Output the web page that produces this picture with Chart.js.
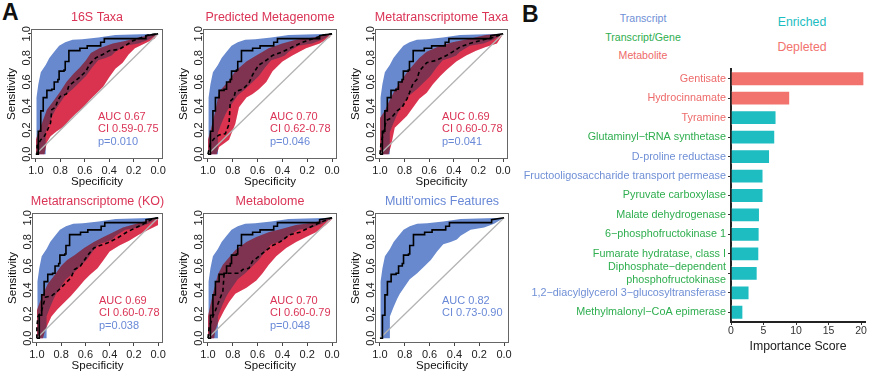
<!DOCTYPE html>
<html><head><meta charset="utf-8">
<script src="https://cdn.jsdelivr.net/npm/chart.js@4"></script>
<style>
html,body{margin:0;padding:0;background:#fff;width:869px;height:374px;overflow:hidden;position:relative;font-family:'Liberation Sans',Arial,sans-serif}
canvas{position:absolute}
.lbl{position:absolute;white-space:nowrap;line-height:1}
.c{transform:translate(-50%,-50%)}
</style></head><body>
<div class="lbl" style="left:2px;top:1px;font-weight:bold;font-size:23px;color:#111">A</div>
<div class="lbl" style="left:522px;top:3px;font-weight:bold;font-size:23px;color:#111">B</div>
<div class="lbl c" style="left:643px;top:18px;font-size:10.6px;color:#6f8fd6">Transcript</div>
<div class="lbl c" style="left:643px;top:37px;font-size:10.6px;color:#2eae4e">Transcript/Gene</div>
<div class="lbl c" style="left:643px;top:55px;font-size:10.6px;color:#ee6a6a">Metabolite</div>
<div class="lbl c" style="left:802px;top:22px;font-size:12.3px;color:#1dbdc1">Enriched</div>
<div class="lbl c" style="left:802px;top:47px;font-size:12.3px;color:#f2736e">Depleted</div>
<canvas id="c1"></canvas><canvas id="c2"></canvas><canvas id="c3"></canvas>
<canvas id="c4"></canvas><canvas id="c5"></canvas><canvas id="c6"></canvas>
<canvas id="cb"></canvas>
<script>
// ---------- DATA (specificity, sensitivity) ----------
const specTicks = [0, 0.2, 0.4, 0.6, 0.8, 1.0];

const multiUpper = [[1,0],[0.995,0],[0.995,0.47],[0.98,0.58],[0.96,0.68],[0.92,0.74],[0.89,0.8],[0.85,0.85],[0.81,0.9],[0.76,0.93],[0.70,0.95],[0.62,0.955],[0.49,0.97],[0.35,0.99],[0,1]];
const multiLower = [[1,0],[0.92,0],[0.92,0.18],[0.89,0.26],[0.86,0.33],[0.84,0.37],[0.80,0.43],[0.76,0.49],[0.70,0.54],[0.65,0.59],[0.59,0.65],[0.54,0.72],[0.49,0.78],[0.43,0.8],[0.38,0.82],[0.35,0.85],[0.27,0.9],[0.16,0.92],[0.08,0.95],[0,1]];
const multiRoc = [[1,0],[0.98,0],[0.98,0.19],[0.96,0.19],[0.96,0.36],[0.94,0.36],[0.94,0.47],[0.91,0.47],[0.91,0.53],[0.87,0.53],[0.87,0.54],[0.85,0.54],[0.85,0.6],[0.82,0.6],[0.82,0.62],[0.81,0.62],[0.81,0.69],[0.77,0.69],[0.77,0.7],[0.76,0.7],[0.76,0.77],[0.73,0.77],[0.73,0.86],[0.64,0.86],[0.64,0.88],[0.58,0.88],[0.58,0.9],[0.47,0.9],[0.47,0.93],[0.44,0.93],[0.44,0.96],[0.1,0.96],[0.1,0.985],[0,1]];

const redUp16 = [[1,0],[1,0.12],[0.98,0.18],[0.96,0.23],[0.91,0.37],[0.85,0.45],[0.80,0.52],[0.75,0.6],[0.69,0.67],[0.64,0.72],[0.59,0.78],[0.55,0.84],[0.48,0.88],[0.37,0.92],[0.27,0.94],[0.16,0.97],[0,1]];
const redLo16 = [[1,0],[0.93,0],[0.91,0.10],[0.88,0.15],[0.83,0.19],[0.77,0.23],[0.72,0.29],[0.67,0.34],[0.61,0.39],[0.56,0.45],[0.51,0.5],[0.45,0.56],[0.40,0.64],[0.35,0.71],[0.29,0.76],[0.24,0.83],[0.19,0.88],[0.11,0.92],[0.03,0.96],[0,1]];
const dash16 = [[1,0],[0.99,0],[0.99,0.07],[0.96,0.12],[0.93,0.15],[0.91,0.19],[0.88,0.26],[0.87,0.37],[0.84,0.39],[0.82,0.45],[0.80,0.48],[0.75,0.5],[0.73,0.57],[0.69,0.6],[0.64,0.64],[0.59,0.69],[0.56,0.75],[0.51,0.80],[0.45,0.83],[0.40,0.86],[0.32,0.87],[0.27,0.9],[0.21,0.94],[0.16,0.96],[0.08,0.99],[0,1]];

const redUpPM = [[1,0],[1,0.12],[0.98,0.19],[0.94,0.36],[0.91,0.52],[0.84,0.6],[0.78,0.69],[0.69,0.77],[0.61,0.82],[0.51,0.88],[0.40,0.92],[0.29,0.95],[0.15,0.97],[0,1]];
const redLoPM = [[1,0],[0.93,0],[0.91,0.06],[0.83,0.12],[0.80,0.2],[0.78,0.25],[0.75,0.39],[0.69,0.47],[0.64,0.5],[0.59,0.54],[0.53,0.6],[0.48,0.69],[0.40,0.77],[0.32,0.82],[0.21,0.88],[0.10,0.92],[0.02,0.97],[0,1]];
const dashPM = [[1,0],[0.98,0.09],[0.95,0.13],[0.91,0.16],[0.86,0.17],[0.83,0.25],[0.82,0.44],[0.79,0.47],[0.78,0.52],[0.72,0.54],[0.67,0.59],[0.64,0.66],[0.61,0.71],[0.59,0.74],[0.53,0.78],[0.48,0.82],[0.40,0.85],[0.32,0.89],[0.24,0.93],[0.15,0.96],[0.07,0.99],[0,1]];

const redUpMT = [[1,0],[1,0.3],[0.96,0.36],[0.92,0.45],[0.88,0.53],[0.84,0.59],[0.78,0.68],[0.73,0.74],[0.68,0.8],[0.62,0.85],[0.51,0.9],[0.41,0.93],[0.27,0.96],[0.14,0.99],[0,1]];
const redLoMT = [[1,0],[0.93,0],[0.91,0.07],[0.88,0.22],[0.84,0.26],[0.78,0.32],[0.73,0.39],[0.68,0.46],[0.62,0.51],[0.57,0.58],[0.51,0.65],[0.46,0.7],[0.38,0.77],[0.30,0.82],[0.22,0.86],[0.14,0.89],[0.05,0.92],[0,1]];
const dashMT = [[1,0],[0.99,0.1],[0.97,0.18],[0.95,0.28],[0.91,0.3],[0.86,0.36],[0.82,0.39],[0.78,0.46],[0.76,0.51],[0.73,0.59],[0.70,0.62],[0.68,0.69],[0.62,0.76],[0.54,0.78],[0.46,0.82],[0.41,0.85],[0.35,0.89],[0.27,0.92],[0.16,0.95],[0.08,0.97],[0,1]];

const redUpKO = [[1,0],[1,0.23],[0.96,0.34],[0.91,0.45],[0.85,0.53],[0.80,0.6],[0.75,0.65],[0.69,0.69],[0.61,0.75],[0.53,0.8],[0.45,0.84],[0.37,0.88],[0.29,0.92],[0.18,0.95],[0.08,0.98],[0,1]];
const redLoKO = [[1,0],[0.95,0],[0.93,0.07],[0.88,0.18],[0.83,0.24],[0.77,0.3],[0.72,0.35],[0.66,0.42],[0.61,0.48],[0.56,0.53],[0.50,0.58],[0.45,0.65],[0.40,0.72],[0.32,0.77],[0.24,0.81],[0.16,0.86],[0.08,0.9],[0,0.94],[0,1]];
const dashKO = [[1,0],[1,0.1],[0.99,0.18],[0.96,0.23],[0.93,0.34],[0.88,0.35],[0.83,0.39],[0.77,0.45],[0.72,0.5],[0.69,0.57],[0.64,0.6],[0.58,0.69],[0.53,0.75],[0.48,0.77],[0.42,0.79],[0.34,0.83],[0.26,0.88],[0.18,0.92],[0.10,0.96],[0.05,0.99],[0,1]];

const redUpMB = [[1,0],[1,0.18],[0.96,0.37],[0.92,0.53],[0.88,0.61],[0.83,0.67],[0.78,0.73],[0.69,0.8],[0.61,0.84],[0.51,0.88],[0.40,0.91],[0.29,0.94],[0.15,0.96],[0,1]];
const redLoMB = [[1,0],[0.95,0],[0.94,0.07],[0.91,0.15],[0.87,0.23],[0.83,0.3],[0.78,0.37],[0.69,0.42],[0.61,0.48],[0.56,0.54],[0.51,0.61],[0.45,0.68],[0.37,0.75],[0.29,0.8],[0.21,0.84],[0.13,0.88],[0.05,0.94],[0,0.99],[0,1]];
const dashMB = [[1,0],[0.99,0.09],[0.96,0.18],[0.94,0.23],[0.91,0.31],[0.88,0.39],[0.87,0.53],[0.84,0.54],[0.75,0.54],[0.72,0.57],[0.67,0.58],[0.64,0.64],[0.59,0.68],[0.53,0.73],[0.48,0.77],[0.42,0.8],[0.34,0.86],[0.26,0.88],[0.18,0.92],[0.10,0.96],[0,1]];

const panelTitles = ['16S Taxa','Predicted Metagenome','Metatranscriptome Taxa','Metatranscriptome (KO)','Metabolome','Multi\'omics Features'];
const aucLabels = ['AUC 0.67','AUC 0.70','AUC 0.69','AUC 0.69','AUC 0.70','AUC 0.82'];
const ciLabels = ['CI 0.59-0.75','CI 0.62-0.78','CI 0.60-0.78','CI 0.60-0.78','CI 0.60-0.79','CI 0.73-0.90'];
const pLabels = ['p=0.010','p=0.046','p=0.041','p=0.038','p=0.048',null];

const barCategories = ['Gentisate','Hydrocinnamate','Tyramine','Glutaminyl\u2212tRNA synthetase','D-proline reductase','Fructooligosaccharide transport permease','Pyruvate carboxylase','Malate dehydrogenase','6\u2212phosphofructokinase 1','Fumarate hydratase, class I',['Diphosphate\u2212dependent','phosphofructokinase'],'1,2\u2212diacylglycerol 3\u2212glucosyltransferase','Methylmalonyl\u2212CoA epimerase'];
const barValues = [20.5, 9.1, 7.0, 6.8, 6.0, 5.0, 5.0, 4.45, 4.4, 4.35, 4.1, 2.85, 1.9];
const barDirection = ['Depleted','Depleted','Enriched','Enriched','Enriched','Enriched','Enriched','Enriched','Enriched','Enriched','Enriched','Enriched','Enriched'];
const featureType = ['Metabolite','Metabolite','Metabolite','Transcript/Gene','Transcript','Transcript','Transcript/Gene','Transcript/Gene','Transcript/Gene','Transcript/Gene','Transcript/Gene','Transcript','Transcript/Gene'];
const importanceTicks = [0, 5, 10, 15, 20];

// ---------- STYLE / LAYOUT ----------
const FONT = "'Liberation Sans', Arial, sans-serif";
const NARROW = "'Liberation Sans Narrow', 'Liberation Sans', Arial, sans-serif";
Chart.defaults.font.family = FONT;
const BLUE = 'rgb(104,137,206)';
const RED = 'rgb(218,52,80)';
const RED_SOFT = 'rgba(218,52,80,0.2)';
const TXT_RED = 'rgb(218,52,86)';
const TXT_BLUE = 'rgb(105,137,215)';
const typeColor = {'Transcript':'#6f8fd6','Transcript/Gene':'#2eae4e','Metabolite':'#ee6a6a'};
const dirColor = {'Enriched':'#1dbdc1','Depleted':'#f2736e'};

const panelBoxes = [
  {id:'c1', L:31, R:163, T:29, B:159},
  {id:'c2', L:203, R:337, T:29, B:159},
  {id:'c3', L:375, R:508, T:29, B:159},
  {id:'c4', L:32, R:163, T:213, B:343},
  {id:'c5', L:203, R:337, T:213, B:343},
  {id:'c6', L:375, R:509, T:213, B:343}
];
const redUps = [redUp16, redUpPM, redUpMT, redUpKO, redUpMB, null];
const redLos = [redLo16, redLoPM, redLoMT, redLoKO, redLoMB, null];
const dashes = [dash16, dashPM, dashMT, dashKO, dashMB, null];

const toXY = a => a.map(([x, y]) => ({x, y}));
const band = (data, color, fill, order) => ({data: toXY(data), borderWidth: 0, borderColor: 'transparent', backgroundColor: color, fill, pointRadius: 0, order});

function makeRoc(i) {
  const box = panelBoxes[i];
  const cv = document.getElementById(box.id);
  const left = box.L - 31, top = box.T - 29;
  const w = box.R - box.L + 35, h = box.B - box.T + 60;
  cv.width = w; cv.height = h;
  cv.style.left = left + 'px'; cv.style.top = top + 'px';
  const hasRed = !!redUps[i];
  const titleColor = hasRed ? TXT_RED : TXT_BLUE;

  const ds = [band(multiUpper, BLUE, '+1', 9), band(multiLower, 'transparent', false, 8)];
  if (hasRed) {
    ds.push(band(redUps[i], RED, '+1', 7));
    ds.push(band(redLos[i], 'transparent', false, 6));
    ds.push(band(redUps[i], RED_SOFT, '+1', 5));
    ds.push(band(redLos[i], 'transparent', false, 4));
  }
  ds.push({data: [{x:1,y:0},{x:0,y:1}], borderColor: '#b3b3b3', borderWidth: 1.3, fill: false, pointRadius: 0, order: 3});
  ds.push({data: toXY(multiRoc), borderColor: '#000', borderWidth: 1.6, fill: false, pointRadius: 0, order: 2});
  if (dashes[i]) ds.push({data: toXY(dashes[i]), borderColor: '#000', borderWidth: 1.6, borderDash: [4, 3], fill: false, pointRadius: 0, order: 1});

  const rocPlugin = {
    id: 'roc' + i,
    afterDatasetDraw(chart, args) {
      if (!hasRed) return;
      if (args.index === 1) chart.ctx.globalCompositeOperation = 'darken';
      if (args.index === 2) chart.ctx.globalCompositeOperation = 'source-over';
    },
    afterDraw(chart) {
      const ctx = chart.ctx, a = chart.chartArea, ys = chart.scales.y;
      ctx.save();
      ctx.globalCompositeOperation = 'source-over';
      ctx.strokeStyle = '#666'; ctx.lineWidth = 1;
      ctx.strokeRect(a.left + 0.5, a.top + 0.5, a.right - a.left - 1, a.bottom - a.top - 1);
      ctx.fillStyle = '#222';
      ctx.font = '11px ' + NARROW;
      ctx.textAlign = 'center'; ctx.textBaseline = 'alphabetic';
      specTicks.forEach(v => {
        ctx.save();
        ctx.translate(a.left - 1.5, ys.getPixelForValue(v));
        ctx.rotate(-Math.PI / 2);
        ctx.fillText(v.toFixed(1), 0, 0);
        ctx.restore();
      });
      ctx.font = '12.5px ' + FONT;
      ctx.fillStyle = titleColor;
      ctx.textBaseline = 'middle';
      ctx.fillText(panelTitles[i], (a.left + a.right) / 2, a.top - 11);
      ctx.font = '11px ' + FONT;
      ctx.textAlign = 'left';
      const sx = a.left + 67;
      ctx.fillStyle = titleColor;
      ctx.fillText(aucLabels[i], sx, a.top + 88);
      ctx.fillText(ciLabels[i], sx, a.top + 100);
      if (pLabels[i]) { ctx.fillStyle = TXT_BLUE; ctx.fillText(pLabels[i], sx, a.top + 113); }
      ctx.restore();
    }
  };

  new Chart(cv, {
    type: 'line',
    data: {datasets: ds},
    options: {
      responsive: false, animation: false, devicePixelRatio: 1,
      layout: {padding: {top: 29, right: 4, left: 0, bottom: 0}},
      plugins: {legend: {display: false}, tooltip: {enabled: false}},
      scales: {
        x: {
          type: 'linear', reverse: true, min: -0.04, max: 1.04,
          afterBuildTicks: s => { s.ticks = specTicks.map(v => ({value: v})); },
          afterFit: s => { s.height = 31; },
          ticks: {autoSkip: false, maxRotation: 0, minRotation: 0, padding: 2, color: '#222', font: {size: 11, family: NARROW}, callback: v => Number(v).toFixed(1)},
          grid: {drawOnChartArea: false, drawTicks: true, tickLength: 3, color: '#444'},
          border: {display: false},
          title: {display: true, text: 'Specificity', color: '#111', font: {size: 11.5}, padding: {top: 0, bottom: 1}}
        },
        y: {
          type: 'linear', min: -0.04, max: 1.04,
          afterBuildTicks: s => { s.ticks = specTicks.map(v => ({value: v})); },
          afterFit: s => { s.width = 31; },
          ticks: {display: false},
          grid: {drawOnChartArea: false, drawTicks: true, tickLength: 3, color: '#444'},
          border: {display: false},
          title: {display: true, text: 'Sensitivity', color: '#111', font: {size: 11.5}, padding: {top: 5, bottom: 0}}
        }
      }
    },
    plugins: [rocPlugin]
  });
}
for (let i = 0; i < 6; i++) makeRoc(i);

// ---------- Panel B ----------
(function () {
  const cv = document.getElementById('cb');
  cv.width = 364; cv.height = 314;
  cv.style.left = '505px'; cv.style.top = '60px';
  new Chart(cv, {
    type: 'bar',
    data: {
      labels: barCategories,
      datasets: [{
        data: barValues,
        backgroundColor: barDirection.map(d => dirColor[d]),
        borderColor: 'rgba(255,255,255,0.85)', borderWidth: 1,
        barPercentage: 0.76, categoryPercentage: 1
      }]
    },
    options: {
      indexAxis: 'y', responsive: false, animation: false, devicePixelRatio: 1,
      layout: {padding: {top: 9, right: 4, left: 0, bottom: 0}},
      plugins: {legend: {display: false}, tooltip: {enabled: false}},
      scales: {
        x: {
          type: 'linear', min: 0, max: 20.6,
          afterBuildTicks: s => { s.ticks = importanceTicks.map(v => ({value: v})); },
          afterFit: s => { s.height = 52; },
          ticks: {autoSkip: false, maxRotation: 0, padding: 0, color: '#333', font: {size: 10.5}},
          grid: {drawOnChartArea: false, drawTicks: true, tickLength: 3, color: '#333'},
          border: {display: true, color: '#222', width: 2},
          title: {display: true, text: 'Importance Score', color: '#222', font: {size: 12.3}, padding: {top: 0, bottom: 19.6}}
        },
        y: {
          afterFit: s => { s.width = 226; },
          ticks: {autoSkip: false, padding: 2, font: {size: 10.8}, color: c => typeColor[featureType[c.index]]},
          grid: {offset: false, drawOnChartArea: false, drawTicks: true, tickLength: 3, color: '#333'},
          border: {display: true, color: '#222', width: 2}
        }
      }
    }
  });
})();
</script>
</body></html>
